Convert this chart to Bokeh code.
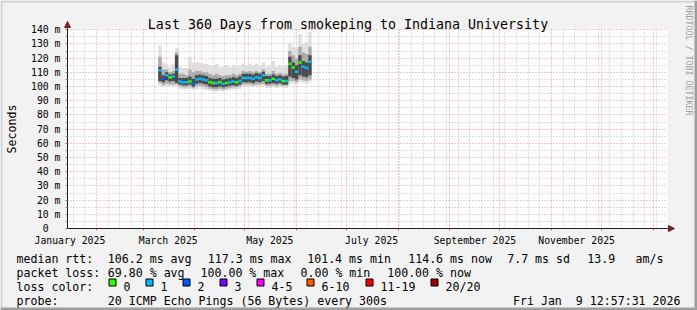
import math
from datetime import datetime, timedelta
import pandas as pd
from bokeh.plotting import figure
from bokeh.models import (ColumnDataSource, Range1d, FixedTicker, Grid, Label,
                          Arrow, NormalHead, BoxAnnotation, DatetimeTickFormatter)
from bokeh.embed import file_html
from bokeh.resources import INLINE

# ---------------- data ----------------
sample_dates = [
    "2025-03-10", "2025-03-12", "2025-03-14", "2025-03-16", "2025-03-18", "2025-03-20",
    "2025-03-22", "2025-03-24", "2025-03-26", "2025-03-28", "2025-03-30",
    "2025-04-01", "2025-04-03", "2025-04-05", "2025-04-07", "2025-04-09", "2025-04-11",
    "2025-04-13", "2025-04-15", "2025-04-17", "2025-04-19", "2025-04-21", "2025-04-23",
    "2025-04-25", "2025-04-27", "2025-04-29",
    "2025-05-01", "2025-05-03", "2025-05-05", "2025-05-07", "2025-05-09", "2025-05-11",
    "2025-05-13", "2025-05-15", "2025-05-17", "2025-05-19", "2025-05-21", "2025-05-23",
    "2025-05-25", "2025-05-27", "2025-05-29", "2025-05-31",
    "2025-06-02", "2025-06-04", "2025-06-06", "2025-06-08",
]
median_rtt = [
    111.5, 105.5, 108, 106.5, 107, 112, 103.5, 103, 103, 103.5, 102,
    105, 105.5, 105, 104.5, 103, 102.5, 102.5, 103, 102, 102.5, 103, 103.5, 103, 104, 106,
    106, 106, 105.5, 106.5, 106, 108, 104.5, 104.5, 105.5, 104.5, 105, 104, 104, 116, 113.5, 110.5,
    117, 114, 113, 117.5,
]
loss_count = [
    1, 2, 1, 0, 1, 1, 1, 1, 1, 0, 2,
    1, 1, 1, 1, 0, 0, 1, 0, 1, 0, 1, 1, 0, 1, 1,
    1, 1, 1, 1, 1, 1, 0, 1, 0, 1, 1, 0, 1, 0, 0, 1,
    0, 1, 1, 1,
]
smoke_outer_lo = [
    101, 99.5, 100, 100, 100, 100.5, 98.5, 98, 98, 98.5, 97.5,
    98, 98.5, 98, 97.5, 97, 96.5, 96.5, 97, 96.5, 97, 97.5, 98, 98, 98.5, 100,
    100, 100, 99.5, 100, 100, 100.5, 99, 99, 99.5, 99, 99.5, 99, 99, 102, 102, 101.5,
    103, 102.5, 102, 103,
]
smoke_outer_hi = [
    129, 117, 116, 114, 116, 127, 114, 113, 113, 121, 117,
    117, 117, 116, 116, 115, 115, 116, 114, 114, 115, 114, 115, 114, 115, 116,
    115, 116, 115, 116, 115, 117, 114, 115, 118, 114, 115, 114, 115, 131, 128, 127,
    137, 130, 131, 138.5,
]
smoke_mid_lo = [
    102.5, 101, 102, 101.5, 101.5, 101.5, 100, 99.5, 99.5, 100, 99,
    100, 100.5, 100, 99.5, 98.5, 98, 98, 98.5, 98, 98.5, 99, 99.5, 99.5, 100, 101.5,
    101.5, 101.5, 101, 101.5, 101.5, 102, 100.5, 100.5, 101, 100.5, 101, 100.5, 100.5, 104, 104, 103,
    105, 104.5, 104, 105,
]
smoke_mid_hi = [
    121, 112, 112, 110, 111, 124, 109, 109, 108, 112, 110,
    111, 111, 110, 110, 109, 108, 109, 108, 107.5, 108, 108, 109, 108, 109, 111,
    110.5, 111, 110, 111, 110, 112, 109, 109, 111, 109, 109.5, 108.5, 109, 125, 122, 120,
    128, 124, 123, 128,
]
smoke_core_lo = [
    104, 103, 104.5, 103.5, 104, 102.5, 101.5, 101, 101, 101.5, 100,
    102, 102.5, 102, 101.5, 100, 99.5, 99.5, 100, 99.5, 100, 100.5, 101, 100.5, 101.5, 103,
    103, 103, 102.5, 103.5, 103, 104, 102, 102, 102.5, 102, 102.5, 101.5, 101.5, 107, 106, 105,
    108, 107, 106.5, 108,
]
smoke_core_hi = [
    114, 108, 110, 108.5, 109, 122, 106, 106, 106, 107, 105.5,
    108, 108.5, 108, 107.5, 106, 105.5, 105.5, 106, 105, 105.5, 106, 106.5, 106, 107, 109,
    109, 109, 108.5, 109.5, 109, 110.5, 107.5, 107.5, 108.5, 107.5, 108, 107, 107.5, 121, 117, 115,
    122, 118, 117, 122,
]

loss_labels = ["0", "1", "2", "3", "4-5", "6-10", "11-19", "20/20"]
loss_colors = ["#26ff00", "#00b8ff", "#0059ff", "#7e00ff", "#ff00ff", "#ff5500", "#ff0000", "#a10000"]

y_ticks = [0, 10, 20, 30, 40, 50, 60, 70, 80, 90, 100, 110, 120, 130, 140]
y_tick_labels = ["0\u00a0\u00a0", "10 m", "20 m", "30 m", "40 m", "50 m", "60 m", "70 m",
                 "80 m", "90 m", "100 m", "110 m", "120 m", "130 m", "140 m"]
x_label_dates = ["2025-01-16", "2025-03-16", "2025-05-16", "2025-07-16", "2025-09-16", "2025-11-16"]
x_tick_labels = ["January 2025", "March 2025", "May 2025", "July 2025", "September 2025", "November 2025"]

title_text = "Last 360 Days from smokeping to Indiana University"
rtt_stats = ["106.2 ms avg", "117.3 ms max", "101.4 ms min", "114.6 ms now", "7.7 ms sd", "13.9", "am/s"]
loss_stats = ["69.80 % avg", "100.00 % max", "0.00 % min", "100.00 % now"]
probe_text = "20 ICMP Echo Pings (56 Bytes) every 300s"
stamp_text = "Fri Jan\u00a0 9 12:57:31 2026"

# ---------------- geometry ----------------
EPOCH = datetime(1970, 1, 1)
def ms(dt):
    return (dt - EPOCH).total_seconds() * 1000.0

t_end = datetime(2026, 1, 9, 12, 57, 31)
t_start = t_end - timedelta(days=360)
Y_MAX = 140.9

W, H = 697, 310
FL, FT, FW, FH = 67, 28, 600, 200          # graph area on the canvas
x_per_px = (ms(t_end) - ms(t_start)) / FW
y_per_px = Y_MAX / FH
x_lo = ms(t_start) - FL * x_per_px
x_hi = ms(t_end) + (W - FL - FW) * x_per_px
y_lo = -(H - FT - FH) * y_per_px
y_hi = Y_MAX + FT * y_per_px

def sx(cx):           # canvas px -> screen units of the frame (frame == canvas)
    return cx
def sy(cy):
    return H - cy

t0 = pd.to_datetime(sample_dates)
t1 = t0 + pd.Timedelta(days=2)

p = figure(width=W, height=H, x_axis_type="datetime",
           x_range=Range1d(x_lo, x_hi), y_range=Range1d(y_lo, y_hi),
           output_backend="svg", toolbar_location=None,
           min_border_left=0, min_border_right=0, min_border_top=0, min_border_bottom=0,
           background_fill_color="#f2f2f2", border_fill_color="#f2f2f2",
           outline_line_color=None)
p.grid.visible = False

# white canvas of the graph
p.add_layout(BoxAnnotation(left=ms(t_start), right=ms(t_end), bottom=0, top=Y_MAX,
                           fill_color="#ffffff", fill_alpha=1.0, line_color=None, level="underlay"))

# ---- grids ----
month_starts = []
d = datetime(2025, 2, 1)
while d < t_end:
    month_starts.append(ms(d))
    d = datetime(d.year + (d.month // 12), d.month % 12 + 1, 1)
weeks = []
d = datetime(2025, 1, 18)
while d < t_end:
    if d.day != 1:
        weeks.append(ms(d))
    d += timedelta(days=7)
y_minor = [v + 5 for v in y_ticks[:-1]]

MGRID = "#de4f4f"
GRID = "#8f8f8f"
xb = (ms(t_start), ms(t_end))
yb = (0, Y_MAX)
p.add_layout(Grid(dimension=0, ticker=FixedTicker(ticks=weeks), cross_bounds=yb,
                  grid_line_color=GRID, grid_line_alpha=0.55, grid_line_dash="1 2"))
p.add_layout(Grid(dimension=1, ticker=FixedTicker(ticks=y_minor), cross_bounds=xb,
                  grid_line_color=GRID, grid_line_alpha=0.55, grid_line_dash="1 2"))
p.add_layout(Grid(dimension=0, ticker=FixedTicker(ticks=month_starts), cross_bounds=yb,
                  grid_line_color=MGRID, grid_line_alpha=0.6, grid_line_dash="1 2"))
p.add_layout(Grid(dimension=1, ticker=FixedTicker(ticks=y_ticks[1:]), cross_bounds=xb,
                  grid_line_color=MGRID, grid_line_alpha=0.6, grid_line_dash="1 2"))

# ---- smoke + median ----
src = ColumnDataSource(dict(
    t0=t0, t1=t1, med=median_rtt,
    olo=smoke_outer_lo, ohi=smoke_outer_hi,
    mlo=smoke_mid_lo, mhi=smoke_mid_hi,
    clo=smoke_core_lo, chi=smoke_core_hi,
    col=[loss_colors[k] if k <= 3 else loss_colors[4] for k in loss_count],
))
p.quad(left="t0", right="t1", bottom="olo", top="ohi", source=src, fill_color="#dedede", line_color=None)
p.quad(left="t0", right="t1", bottom="mlo", top="mhi", source=src, fill_color="#ababab", line_color=None)
p.quad(left="t0", right="t1", bottom="clo", top="chi", source=src, fill_color="#4a4a4a", line_color=None)
p.segment(x0="t0", x1="t1", y0="med", y1="med", source=src, line_color="col", line_width=2.5)

# ---- axes (fixed at the graph edges) ----
xa = p.xaxis[0]
xa.fixed_location = 0
xa.bounds = xb
xa.ticker = FixedTicker(ticks=[ms(datetime.strptime(s, "%Y-%m-%d")) for s in x_label_dates],
                        minor_ticks=month_starts)
xa.formatter = DatetimeTickFormatter(microseconds="%B %Y", milliseconds="%B %Y", seconds="%B %Y",
                                     minsec="%B %Y", minutes="%B %Y", hourmin="%B %Y", hours="%B %Y",
                                     days="%B %Y", months="%B %Y", years="%B %Y")
xa.major_label_overrides = {int(ms(datetime.strptime(s, "%Y-%m-%d"))): lbl
                            for s, lbl in zip(x_label_dates, x_tick_labels)}
xa.major_tick_out = 0
xa.major_tick_in = 0
xa.minor_tick_out = 2
xa.minor_tick_in = 0
xa.minor_tick_line_color = MGRID
xa.major_label_standoff = 4
xa.major_label_text_font = "DejaVu Sans Mono"
xa.major_label_text_font_size = "9.8px"
xa.major_label_text_color = "#000000"
xa.axis_line_color = "#1f1f1f"

ya = p.yaxis[0]
ya.fixed_location = ms(t_start)
ya.bounds = yb
ya.ticker = FixedTicker(ticks=y_ticks, minor_ticks=y_minor)
ya.major_label_overrides = {v: lbl for v, lbl in zip(y_ticks, y_tick_labels)}
ya.major_tick_out = 2
ya.major_tick_in = 0
ya.major_tick_line_color = MGRID
ya.minor_tick_out = 2
ya.minor_tick_in = 0
ya.minor_tick_line_color = GRID
ya.major_label_standoff = 5
ya.major_label_text_font = "DejaVu Sans Mono"
ya.major_label_text_font_size = "9.8px"
ya.major_label_text_color = "#000000"
ya.axis_line_color = "#1f1f1f"

# axis arrows
p.add_layout(Arrow(x_start=sx(FL + FW), y_start=sy(FT + FH), x_end=sx(FL + FW + 7), y_end=sy(FT + FH),
                   start_units="screen", end_units="screen", line_color="#1f1f1f", line_width=1, start=None,
                   end=NormalHead(size=6, fill_color="#801f1f", line_color="#801f1f")))
p.add_layout(Arrow(x_start=sx(FL), y_start=sy(FT), x_end=sx(FL), y_end=sy(FT - 7),
                   start_units="screen", end_units="screen", line_color="#1f1f1f", line_width=1, start=None,
                   end=NormalHead(size=6, fill_color="#801f1f", line_color="#801f1f")))

# ---- texts ----
MONO = "DejaVu Sans Mono"
def label(cx, cy, txt, size="11.6px", align="left", baseline="alphabetic", angle=0.0, color="#000000"):
    p.add_layout(Label(x=sx(cx), y=sy(cy), x_units="screen", y_units="screen", text=txt,
                       text_font=MONO, text_font_size=size, text_align=align,
                       text_baseline=baseline, angle=angle, text_color=color))

label(347.5, 24.3, title_text, size="13.3px", align="center")
label(11, 128.5, "Seconds", align="center", baseline="middle", angle=math.pi / 2)
label(688.5, 60, "RRDTOOL / TOBI OETIKER", size="8.3px", align="center", baseline="middle",
      angle=-math.pi / 2, color="#a0a0a0")

row_base = [258.3, 272.3, 286.4, 300.4]
label(16, row_base[0], "median rtt:")
for txt, cx in zip(rtt_stats, [107.3, 207.3, 306.7, 407.7, 506.7, 586.7, 635]):
    label(cx, row_base[0], txt)
label(16, row_base[1], "packet loss:")
for txt, cx in zip(loss_stats, [107.3, 200, 300, 386.7]):
    label(cx, row_base[1], txt)
label(16, row_base[2], "loss color:")
label(16, row_base[3], "probe:")
label(107.3, row_base[3], probe_text)
label(680, row_base[3], stamp_text, align="right")

# ---- loss colour legend (swatches + labels) ----
swatch_x = [108, 145, 182, 219, 256, 306, 365, 430]
for lbl, col, bx in zip(loss_labels, loss_colors, swatch_x):
    p.add_layout(BoxAnnotation(left=sx(bx + 0.5), right=sx(bx + 7.5), bottom=sy(285.5), top=sy(278.5),
                               left_units="screen", right_units="screen", bottom_units="screen",
                               top_units="screen", fill_color=col, fill_alpha=1.0,
                               line_color="#000000", line_width=1, line_alpha=1.0, level="overlay"))
    label(bx + 15, row_base[2], lbl)

# ---- canvas shading ----
def strip(l, r, b, t, col):
    p.add_layout(BoxAnnotation(left=l, right=r, bottom=b, top=t, left_units="screen", right_units="screen",
                               bottom_units="screen", top_units="screen", fill_color=col, fill_alpha=1.0,
                               line_color=None, level="overlay"))
strip(sx(0), sx(W), sy(2), sy(0), "#cfcfcf")
strip(sx(0), sx(2), sy(H), sy(0), "#cfcfcf")
strip(sx(W - 3), sx(W), sy(H), sy(0), "#9e9e9e")
strip(sx(0), sx(W), sy(H), sy(H - 3), "#9e9e9e")

open("out.html", "w").write(file_html(p, INLINE))
